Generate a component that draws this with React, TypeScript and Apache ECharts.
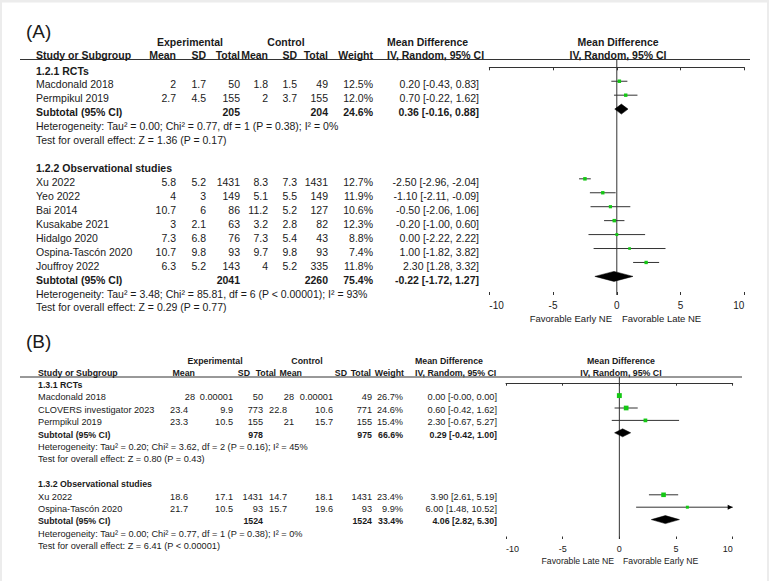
import React, { useEffect, useRef } from "react";
import * as echarts from "echarts";

const FONT = "'Liberation Sans', Arial, Helvetica, sans-serif";
const TEXT = "#1a1a1a";
const LINE = "#333";
const GREEN = "#14c814";

// ---------------- Panel A data ----------------
const aG1Title = "1.2.1 RCTs";
const aG1Studies = ["Macdonald 2018", "Permpikul 2019"];
const aG1ExpMean = [2, 2.7];
const aG1ExpSD = [1.7, 4.5];
const aG1ExpTotal = [50, 155];
const aG1CtlMean = [1.8, 2];
const aG1CtlSD = [1.5, 3.7];
const aG1CtlTotal = [49, 155];
const aG1Weight = [12.5, 12.0];
const aG1MD = [0.2, 0.7];
const aG1Lo = [-0.43, -0.22];
const aG1Hi = [0.83, 1.62];
const aG1Sub = [205, 204, 24.6, 0.36, -0.16, 0.88]; // expTotal, ctlTotal, weight, md, lo, hi
const aG1Het = "Heterogeneity: Tau² = 0.00; Chi² = 0.77, df = 1 (P = 0.38); I² = 0%";
const aG1Test = "Test for overall effect: Z = 1.36 (P = 0.17)";

const aG2Title = "1.2.2 Observational studies";
const aG2Studies = ["Xu 2022", "Yeo 2022", "Bai 2014", "Kusakabe 2021", "Hidalgo 2020", "Ospina-Tascón 2020", "Jouffroy 2022"];
const aG2ExpMean = [5.8, 4, 10.7, 3, 7.3, 10.7, 6.3];
const aG2ExpSD = [5.2, 3, 6, 2.1, 6.8, 9.8, 5.2];
const aG2ExpTotal = [1431, 149, 86, 63, 76, 93, 143];
const aG2CtlMean = [8.3, 5.1, 11.2, 3.2, 7.3, 9.7, 4];
const aG2CtlSD = [7.3, 5.5, 5.2, 2.8, 5.4, 9.8, 5.2];
const aG2CtlTotal = [1431, 149, 127, 82, 43, 93, 335];
const aG2Weight = [12.7, 11.9, 10.6, 12.3, 8.8, 7.4, 11.8];
const aG2MD = [-2.5, -1.1, -0.5, -0.2, 0.0, 1.0, 2.3];
const aG2Lo = [-2.96, -2.11, -2.06, -1.0, -2.22, -1.82, 1.28];
const aG2Hi = [-2.04, -0.09, 1.06, 0.6, 2.22, 3.82, 3.32];
const aG2Sub = [2041, 2260, 75.4, -0.22, -1.72, 1.27];
const aG2Het = "Heterogeneity: Tau² = 3.48; Chi² = 85.81, df = 6 (P < 0.00001); I² = 93%";
const aG2Test = "Test for overall effect: Z = 0.29 (P = 0.77)";

// ---------------- Panel B data ----------------
const bG1Title = "1.3.1 RCTs";
const bG1Studies = ["Macdonald 2018", "CLOVERS investigator 2023", "Permpikul 2019"];
const bG1ExpMean = [28, 23.4, 23.3];
const bG1ExpSD = [0.00001, 9.9, 10.5];
const bG1ExpTotal = [50, 773, 155];
const bG1CtlMean = [28, 22.8, 21];
const bG1CtlSD = [0.00001, 10.6, 15.7];
const bG1CtlTotal = [49, 771, 155];
const bG1Weight = [26.7, 24.6, 15.4];
const bG1MD = [0.0, 0.6, 2.3];
const bG1Lo = [-0.000004, -0.42, -0.67];
const bG1Hi = [0.000004, 1.62, 5.27];
const bG1Sub = [978, 975, 66.6, 0.29, -0.42, 1.0];
const bG1Het = "Heterogeneity: Tau² = 0.20; Chi² = 3.62, df = 2 (P = 0.16); I² = 45%";
const bG1Test = "Test for overall effect: Z = 0.80 (P = 0.43)";

const bG2Title = "1.3.2 Observational studies";
const bG2Studies = ["Xu 2022", "Ospina-Tascón 2020"];
const bG2ExpMean = [18.6, 21.7];
const bG2ExpSD = [17.1, 10.5];
const bG2ExpTotal = [1431, 93];
const bG2CtlMean = [14.7, 15.7];
const bG2CtlSD = [18.1, 19.6];
const bG2CtlTotal = [1431, 93];
const bG2Weight = [23.4, 9.9];
const bG2MD = [3.9, 6.0];
const bG2Lo = [2.61, 1.48];
const bG2Hi = [5.19, 10.52];
const bG2Sub = [1524, 1524, 33.4, 4.06, 2.82, 5.3];
const bG2Het = "Heterogeneity: Tau² = 0.00; Chi² = 0.77, df = 1 (P = 0.38); I² = 0%";
const bG2Test = "Test for overall effect: Z = 6.41 (P < 0.00001)";

// axis
const axisMin = -10;
const axisMax = 10;
const axisStep = 5;
const aFavLeft = "Favorable Early NE";
const aFavRight = "Favorable Late NE";
const bFavLeft = "Favorable Late NE";
const bFavRight = "Favorable Early NE";
const headerTop = ["Experimental", "Control", "Mean Difference", "Mean Difference"];
const headerCols = ["Study or Subgroup", "Mean", "SD", "Total", "Mean", "SD", "Total", "Weight", "IV, Random, 95% CI", "IV, Random, 95% CI"];

type Group = {
  title: string; studies: string[]; expMean: number[]; expSD: number[]; expTotal: number[];
  ctlMean: number[]; ctlSD: number[]; ctlTotal: number[]; weight: number[]; md: number[]; lo: number[]; hi: number[];
  sub: number[]; het: string; test: string;
};

const groupsA: Group[] = [
  { title: aG1Title, studies: aG1Studies, expMean: aG1ExpMean, expSD: aG1ExpSD, expTotal: aG1ExpTotal, ctlMean: aG1CtlMean, ctlSD: aG1CtlSD, ctlTotal: aG1CtlTotal, weight: aG1Weight, md: aG1MD, lo: aG1Lo, hi: aG1Hi, sub: aG1Sub, het: aG1Het, test: aG1Test },
  { title: aG2Title, studies: aG2Studies, expMean: aG2ExpMean, expSD: aG2ExpSD, expTotal: aG2ExpTotal, ctlMean: aG2CtlMean, ctlSD: aG2CtlSD, ctlTotal: aG2CtlTotal, weight: aG2Weight, md: aG2MD, lo: aG2Lo, hi: aG2Hi, sub: aG2Sub, het: aG2Het, test: aG2Test },
];
const groupsB: Group[] = [
  { title: bG1Title, studies: bG1Studies, expMean: bG1ExpMean, expSD: bG1ExpSD, expTotal: bG1ExpTotal, ctlMean: bG1CtlMean, ctlSD: bG1CtlSD, ctlTotal: bG1CtlTotal, weight: bG1Weight, md: bG1MD, lo: bG1Lo, hi: bG1Hi, sub: bG1Sub, het: bG1Het, test: bG1Test },
  { title: bG2Title, studies: bG2Studies, expMean: bG2ExpMean, expSD: bG2ExpSD, expTotal: bG2ExpTotal, ctlMean: bG2CtlMean, ctlSD: bG2CtlSD, ctlTotal: bG2CtlTotal, weight: bG2Weight, md: bG2MD, lo: bG2Lo, hi: bG2Hi, sub: bG2Sub, het: bG2Het, test: bG2Test },
];

// ---------------- Layout ----------------
type Layout = {
  label: string; labelX: number; labelY: number; labelFs: number; fs: number; fsB: number;
  hdr1Y: number; hdr2Y: number; lineY: number; lineX1: number; lineX2: number;
  textY0: number; step: number; markOff: number; nameX: number;
  vals: number[]; hdrs: number[]; intShift: number;
  expCenter: number; ctlCenter: number; mdLeft: number; plotCenter: number;
  gridLeft: number; gridRight: number; axisY: number; diamondH: number; tick: number;
  favY: number; favLeftEdge: number; favRightEdge: number; favFs: number; tickFs: number;
  favLeft: string; favRight: string; sq: number;
};

const LA: Layout = {
  label: "(A)", labelX: 26, labelY: 31, labelFs: 19, fs: 10.5, fsB: 10.5,
  hdr1Y: 42, hdr2Y: 54.5, lineY: 59.5, lineX1: 20, lineX2: 750,
  textY0: 70.5, step: 13.94, markOff: -3.2, nameX: 36,
  vals: [176, 206, 240, 268, 297, 328, 373, 479],
  hdrs: [176, 206, 240, 268, 297, 328, 373],
  intShift: 0,
  expCenter: 190, ctlCenter: 286, mdLeft: 387, plotCenter: 618,
  gridLeft: 489.3, gridRight: 744.3, axisY: 295, diamondH: 10, tick: 3,
  favY: 318, favLeftEdge: 612, favRightEdge: 622, favFs: 9.5, tickFs: 10,
  favLeft: aFavLeft, favRight: aFavRight, sq: 0.98,
};
const LB: Layout = {
  label: "(B)", labelX: 26, labelY: 341, labelFs: 19, fs: 9.2, fsB: 8.8,
  hdr1Y: 361, hdr2Y: 372.5, lineY: 377, lineX1: 20, lineX2: 742,
  textY0: 385, step: 12.4, markOff: -1.8, nameX: 38,
  vals: [188, 233, 263, 287, 333, 372, 403, 497],
  hdrs: [195, 250, 276, 302, 347, 371, 404],
  intShift: 7,
  expCenter: 215, ctlCenter: 307, mdLeft: 415, plotCenter: 621,
  gridLeft: 506, gridRight: 732.7, axisY: 539, diamondH: 8, tick: 2.5,
  favY: 561, favLeftEdge: 614, favRightEdge: 623, favFs: 8.7, tickFs: 9,
  favLeft: bFavLeft, favRight: bFavRight, sq: 0.95,
};

const W = 769;
const H = 581;

function t(x: number, y: number, text: string, fs: number, align: string, bold = false) {
  return {
    type: "text", x, y, silent: true, z: 10,
    style: { text, fill: TEXT, fontSize: fs, fontFamily: FONT, fontWeight: bold ? "bold" : "normal", textAlign: align, textVerticalAlign: "middle" },
  };
}

const fmtMD = (md: number, lo: number, hi: number) => `${md.toFixed(2)} [${lo.toFixed(2)}, ${hi.toFixed(2)}]`;

function buildPanel(L: Layout, groups: Group[]) {
  const els: any[] = [];
  const ty = (r: number) => L.textY0 + r * L.step;
  const f = L.fs, fb = L.fsB;
  els.push(t(L.labelX, L.labelY, L.label, L.labelFs, "left"));
  els.push(t(L.expCenter, L.hdr1Y, headerTop[0], fb, "center", true));
  els.push(t(L.ctlCenter, L.hdr1Y, headerTop[1], fb, "center", true));
  els.push(t(L.mdLeft, L.hdr1Y, headerTop[2], fb, "left", true));
  els.push(t(L.plotCenter, L.hdr1Y, headerTop[3], fb, "center", true));
  els.push(t(L.nameX, L.hdr2Y, headerCols[0], fb, "left", true));
  for (let i = 0; i < 7; i++) els.push(t(L.hdrs[i], L.hdr2Y, headerCols[i + 1], fb, "right", true));
  els.push(t(L.mdLeft, L.hdr2Y, headerCols[8], fb, "left", true));
  els.push(t(L.plotCenter, L.hdr2Y, headerCols[9], fb, "center", true));
  els.push({ type: "line", silent: true, z: 5, shape: { x1: L.lineX1, y1: L.lineY, x2: L.lineX2, y2: L.lineY }, style: { stroke: LINE, lineWidth: 1 } });

  const marks: number[][] = [];
  let row = 0;
  groups.forEach((g, gi) => {
    if (gi > 0) row++;
    els.push(t(L.nameX, ty(row), g.title, fb, "left", true));
    row++;
    g.studies.forEach((s, i) => {
      const y = ty(row);
      const meanX = (v: number, x: number) => (Number.isInteger(v) ? x + L.intShift : x);
      els.push(t(L.nameX, y, s, f, "left"));
      els.push(t(meanX(g.expMean[i], L.vals[0]), y, String(g.expMean[i]), f, "right"));
      els.push(t(L.vals[1], y, String(g.expSD[i]), f, "right"));
      els.push(t(L.vals[2], y, String(g.expTotal[i]), f, "right"));
      els.push(t(meanX(g.ctlMean[i], L.vals[3]), y, String(g.ctlMean[i]), f, "right"));
      els.push(t(L.vals[4], y, String(g.ctlSD[i]), f, "right"));
      els.push(t(L.vals[5], y, String(g.ctlTotal[i]), f, "right"));
      els.push(t(L.vals[6], y, g.weight[i].toFixed(1) + "%", f, "right"));
      els.push(t(L.vals[7], y, fmtMD(g.md[i], g.lo[i], g.hi[i]), f, "right"));
      marks.push([g.md[i], g.lo[i], g.hi[i], row, g.weight[i], 0]);
      row++;
    });
    const y = ty(row);
    const [et, ct, w, md, lo, hi] = g.sub;
    els.push(t(L.nameX, y, "Subtotal (95% CI)", fb, "left", true));
    els.push(t(L.vals[2], y, String(et), fb, "right", true));
    els.push(t(L.vals[5], y, String(ct), fb, "right", true));
    els.push(t(L.vals[6], y, w.toFixed(1) + "%", fb, "right", true));
    els.push(t(L.vals[7], y, fmtMD(md, lo, hi), fb, "right", true));
    marks.push([md, lo, hi, row, w, 1]);
    row++;
    els.push(t(L.nameX, ty(row), g.het, f, "left"));
    row++;
    els.push(t(L.nameX, ty(row), g.test, f, "left"));
    row++;
  });
  els.push(t(L.favLeftEdge, L.favY, L.favLeft, L.favFs, "right"));
  els.push(t(L.favRightEdge, L.favY, L.favRight, L.favFs, "left"));
  return { els, marks };
}

export default function App() {
  const ref = useRef<HTMLDivElement>(null);
  useEffect(() => {
    if (!ref.current) return;
    const chart = echarts.init(ref.current, undefined, { renderer: "svg" });
    const pA = buildPanel(LA, groupsA);
    const pB = buildPanel(LB, groupsB);
    const layouts = [LA, LB];
    const marksAll = [pA.marks, pB.marks];

    const grids: any[] = [];
    const xAxes: any[] = [];
    const yAxes: any[] = [];
    const series: any[] = [];

    layouts.forEach((L, i) => {
      const markY0 = L.textY0 + L.markOff;
      const yMin = (L.lineY - markY0) / L.step;
      const yMax = (L.axisY - markY0) / L.step;
      grids.push({ left: L.gridLeft, width: L.gridRight - L.gridLeft, top: L.lineY, height: L.axisY - L.lineY, containLabel: false });
      xAxes.push({
        type: "value", gridIndex: i, min: axisMin, max: axisMax, interval: axisStep, position: "bottom",
        axisLine: { show: true, lineStyle: { color: LINE, width: 1 } },
        axisTick: { show: true, length: L.tick, lineStyle: { color: LINE, width: 1 } },
        axisLabel: { show: true, color: TEXT, fontSize: L.tickFs, fontFamily: FONT, margin: 5, alignMinLabel: "left", alignMaxLabel: "right" },
        splitLine: { show: false },
      });
      xAxes.push({
        type: "value", gridIndex: i, min: axisMin, max: axisMax, interval: axisStep, position: "bottom",
        axisLine: { show: false }, axisTick: { show: true, inside: true, length: L.tick, lineStyle: { color: LINE, width: 1 } },
        axisLabel: { show: false }, splitLine: { show: false },
      });
      yAxes.push({ type: "value", gridIndex: i, min: yMin, max: yMax, inverse: true, show: false });
      series.push({
        type: "line", xAxisIndex: i * 2, yAxisIndex: i, data: [[0, yMin], [0, yMax]], symbol: "none", silent: true,
        lineStyle: { color: LINE, width: 1 }, z: 1,
      });
      series.push({
        type: "custom", xAxisIndex: i * 2, yAxisIndex: i, z: 3, silent: true, clip: false,
        data: marksAll[i],
        renderItem: (params: any, api: any) => {
          const md = api.value(0), lo = api.value(1), hi = api.value(2), r = api.value(3), w = api.value(4), kind = api.value(5);
          const c = api.coord([md, r]);
          const pl = api.coord([lo, r]);
          const ph = api.coord([hi, r]);
          const cs = params.coordSys;
          const y = c[1];
          if (kind === 1) {
            const h = L.diamondH / 2;
            return {
              type: "polygon",
              shape: { points: [[pl[0], y], [c[0], y - h], [ph[0], y], [c[0], y + h]] },
              style: { fill: "#000", stroke: "#000", lineWidth: 0.5 },
            };
          }
          const xl = Math.max(pl[0], cs.x);
          const xr = Math.min(ph[0], cs.x + cs.width);
          const s = Math.sqrt(w) * L.sq;
          const children: any[] = [
            { type: "line", shape: { x1: xl, y1: y, x2: xr, y2: y }, style: { stroke: LINE, lineWidth: 1 } },
            { type: "rect", shape: { x: c[0] - s / 2, y: y - s / 2, width: s, height: s }, style: { fill: GREEN } },
          ];
          if (ph[0] > cs.x + cs.width) {
            children.push({ type: "polygon", shape: { points: [[xr, y], [xr - 5, y - 2.5], [xr - 5, y + 2.5]] }, style: { fill: "#000" } });
          }
          return { type: "group", children };
        },
      });
    });

    const frame = [
      { type: "rect", silent: true, z: 0, shape: { x: 0, y: 0, width: W, height: 2.5 }, style: { fill: "#ececec" } },
      { type: "rect", silent: true, z: 0, shape: { x: 0, y: 0, width: 2, height: H }, style: { fill: "#ececec" } },
      { type: "rect", silent: true, z: 0, shape: { x: W - 2, y: 0, width: 2, height: H }, style: { fill: "#ececec" } },
    ];

    chart.setOption({
      animation: false,
      backgroundColor: "#fff",
      grid: grids,
      xAxis: xAxes,
      yAxis: yAxes,
      series,
      graphic: { elements: [...frame, ...pA.els, ...pB.els] },
    });
    return () => chart.dispose();
  }, []);
  return <div ref={ref} style={{ position: "fixed", left: 0, top: 0, width: W, height: H }} />;
}
